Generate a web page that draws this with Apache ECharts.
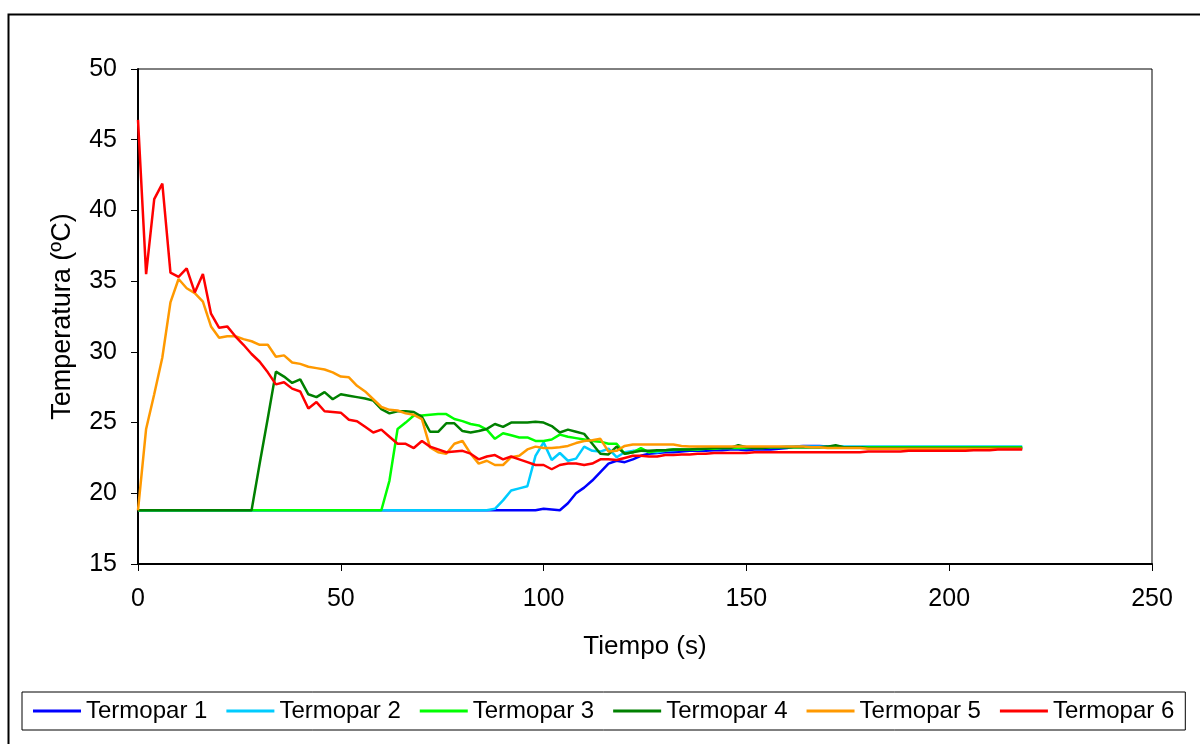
<!DOCTYPE html>
<html>
<head>
<meta charset="utf-8">
<script src="https://cdn.jsdelivr.net/npm/echarts@6/dist/echarts.min.js"></script>
<style>
  html, body { margin: 0; padding: 0; background: #fff; }
  #main { width: 1200px; height: 744px; }
</style>
</head>
<body>
<div id="main"></div>
<script>
// tiempo (s), una lectura cada 2 s
var tiempos = [
  0, 2, 4, 6, 8, 10, 12, 14, 16, 18,
  20, 22, 24, 26, 28, 30, 32, 34, 36, 38,
  40, 42, 44, 46, 48, 50, 52, 54, 56, 58,
  60, 62, 64, 66, 68, 70, 72, 74, 76, 78,
  80, 82, 84, 86, 88, 90, 92, 94, 96, 98,
  100, 102, 104, 106, 108, 110, 112, 114, 116, 118,
  120, 122, 124, 126, 128, 130, 132, 134, 136, 138,
  140, 142, 144, 146, 148, 150, 152, 154, 156, 158,
  160, 162, 164, 166, 168, 170, 172, 174, 176, 178,
  180, 182, 184, 186, 188, 190, 192, 194, 196, 198,
  200, 202, 204, 206, 208, 210, 212, 214, 216, 218
];

var termopar1 = [
  18.8, 18.8, 18.8, 18.8, 18.8, 18.8, 18.8, 18.8, 18.8, 18.8,
  18.8, 18.8, 18.8, 18.8, 18.8, 18.8, 18.8, 18.8, 18.8, 18.8,
  18.8, 18.8, 18.8, 18.8, 18.8, 18.8, 18.8, 18.8, 18.8, 18.8,
  18.8, 18.8, 18.8, 18.8, 18.8, 18.8, 18.8, 18.8, 18.8, 18.8,
  18.8, 18.8, 18.8, 18.8, 18.8, 18.8, 18.8, 18.8, 18.8, 18.8,
  18.9, 18.85, 18.8, 19.3, 20.0, 20.4, 20.9, 21.5, 22.1, 22.3,
  22.2, 22.4, 22.65, 22.8, 22.85, 22.9, 22.9, 22.95, 23.0, 23.0,
  23.0, 23.05, 23.05, 23.1, 23.1, 23.05, 23.1, 23.1, 23.1, 23.15,
  23.2, 23.3, 23.35, 23.35, 23.35, 23.3, 23.3, 23.25, 23.25, 23.25,
  23.2, 23.2, 23.2, 23.2, 23.2, 23.2, 23.2, 23.2, 23.2, 23.2,
  23.2, 23.2, 23.2, 23.2, 23.2, 23.2, 23.2, 23.2, 23.2, 23.2
];

var termopar2 = [
  18.8, 18.8, 18.8, 18.8, 18.8, 18.8, 18.8, 18.8, 18.8, 18.8,
  18.8, 18.8, 18.8, 18.8, 18.8, 18.8, 18.8, 18.8, 18.8, 18.8,
  18.8, 18.8, 18.8, 18.8, 18.8, 18.8, 18.8, 18.8, 18.8, 18.8,
  18.8, 18.8, 18.8, 18.8, 18.8, 18.8, 18.8, 18.8, 18.8, 18.8,
  18.8, 18.8, 18.8, 18.8, 18.9, 19.5, 20.2, 20.35, 20.5, 22.65,
  23.6, 22.35, 22.85, 22.3, 22.45, 23.3, 23.0, 22.95, 23.15, 22.55,
  22.9, 23.0, 23.0, 22.95, 22.9, 23.0, 23.05, 23.1, 23.1, 23.1,
  23.15, 23.15, 23.2, 23.2, 23.2, 23.2, 23.25, 23.25, 23.25, 23.25,
  23.3, 23.3, 23.3, 23.3, 23.3, 23.3, 23.3, 23.3, 23.3, 23.3,
  23.3, 23.3, 23.3, 23.3, 23.3, 23.3, 23.3, 23.3, 23.3, 23.3,
  23.3, 23.3, 23.3, 23.3, 23.3, 23.3, 23.3, 23.3, 23.3, 23.3
];

var termopar3 = [
  18.8, 18.8, 18.8, 18.8, 18.8, 18.8, 18.8, 18.8, 18.8, 18.8,
  18.8, 18.8, 18.8, 18.8, 18.8, 18.8, 18.8, 18.8, 18.8, 18.8,
  18.8, 18.8, 18.8, 18.8, 18.8, 18.8, 18.8, 18.8, 18.8, 18.8,
  18.8, 20.9, 24.55, 25.0, 25.5, 25.5, 25.55, 25.6, 25.6, 25.25,
  25.1, 24.9, 24.8, 24.5, 23.85, 24.25, 24.1, 23.95, 23.95, 23.7,
  23.7, 23.8, 24.15, 24.0, 23.9, 23.8, 23.7, 23.65, 23.5, 23.5,
  22.8, 22.9, 23.2, 22.9, 23.0, 23.05, 23.1, 23.1, 23.1, 23.1,
  23.15, 23.15, 23.2, 23.2, 23.2, 23.2, 23.2, 23.2, 23.25, 23.25,
  23.25, 23.25, 23.25, 23.25, 23.25, 23.25, 23.25, 23.25, 23.25, 23.25,
  23.25, 23.25, 23.25, 23.25, 23.25, 23.25, 23.25, 23.25, 23.25, 23.25,
  23.25, 23.25, 23.25, 23.25, 23.25, 23.25, 23.25, 23.25, 23.25, 23.25
];

var termopar4 = [
  18.8, 18.8, 18.8, 18.8, 18.8, 18.8, 18.8, 18.8, 18.8, 18.8,
  18.8, 18.8, 18.8, 18.8, 18.8, 22.1, 25.3, 28.6, 28.25, 27.8,
  28.05, 27.0, 26.8, 27.15, 26.65, 27.0, 26.9, 26.8, 26.7, 26.55,
  25.95, 25.65, 25.8, 25.8, 25.75, 25.4, 24.35, 24.35, 24.95, 24.95,
  24.4, 24.3, 24.4, 24.55, 24.9, 24.7, 25.0, 25.0, 25.0, 25.05,
  25.0, 24.75, 24.3, 24.5, 24.35, 24.2, 23.5, 22.8, 22.75, 23.3,
  22.8, 22.9, 23.0, 23.0, 23.05, 23.05, 23.1, 23.1, 23.1, 23.15,
  23.15, 23.2, 23.2, 23.2, 23.4, 23.25, 23.2, 23.2, 23.25, 23.25,
  23.25, 23.25, 23.25, 23.25, 23.25, 23.3, 23.4, 23.25, 23.25, 23.25,
  23.2, 23.2, 23.2, 23.2, 23.2, 23.2, 23.2, 23.2, 23.2, 23.2,
  23.2, 23.2, 23.2, 23.2, 23.2, 23.2, 23.2, 23.2, 23.2, 23.2
];

var termopar5 = [
  18.8, 24.55, 27.0, 29.6, 33.5, 35.15, 34.5, 34.15, 33.55, 31.8,
  31.0, 31.1, 31.1, 30.9, 30.75, 30.5, 30.5, 29.65, 29.75, 29.25,
  29.15, 28.95, 28.85, 28.75, 28.55, 28.25, 28.2, 27.6, 27.2, 26.65,
  26.1, 25.9, 25.85, 25.65, 25.55, 25.25, 23.25, 22.9, 22.8, 23.5,
  23.7, 22.8, 22.1, 22.3, 22.0, 22.0, 22.55, 22.65, 23.1, 23.3,
  23.2, 23.2, 23.25, 23.35, 23.55, 23.7, 23.75, 23.85, 22.95, 23.0,
  23.35, 23.45, 23.45, 23.45, 23.45, 23.45, 23.45, 23.35, 23.3, 23.3,
  23.3, 23.3, 23.3, 23.3, 23.3, 23.3, 23.3, 23.3, 23.3, 23.3,
  23.3, 23.3, 23.3, 23.25, 23.25, 23.2, 23.2, 23.2, 23.2, 23.2,
  23.15, 23.15, 23.15, 23.15, 23.15, 23.15, 23.15, 23.15, 23.15, 23.15,
  23.15, 23.15, 23.15, 23.15, 23.15, 23.15, 23.15, 23.15, 23.15, 23.15
];

var termopar6 = [
  46.4, 35.5, 40.8, 41.9, 35.6, 35.3, 35.9, 34.2, 35.5, 32.7,
  31.7, 31.8, 31.1, 30.5, 29.85, 29.3, 28.55, 27.7, 27.85, 27.4,
  27.2, 26.0, 26.45, 25.8, 25.75, 25.7, 25.2, 25.1, 24.7, 24.3,
  24.5, 24.0, 23.5, 23.5, 23.2, 23.7, 23.3, 23.1, 22.9, 22.95,
  23.0, 22.8, 22.4, 22.6, 22.7, 22.4, 22.6, 22.4, 22.2, 22.0,
  22.0, 21.7, 22.0, 22.1, 22.1, 22.0, 22.1, 22.4, 22.4, 22.35,
  22.5, 22.65, 22.65, 22.6, 22.6, 22.7, 22.7, 22.75, 22.75, 22.8,
  22.8, 22.85, 22.85, 22.85, 22.85, 22.85, 22.9, 22.9, 22.9, 22.9,
  22.9, 22.9, 22.9, 22.9, 22.9, 22.9, 22.9, 22.9, 22.9, 22.9,
  22.95, 22.95, 22.95, 22.95, 22.95, 23.0, 23.0, 23.0, 23.0, 23.0,
  23.0, 23.0, 23.0, 23.05, 23.05, 23.05, 23.1, 23.1, 23.1, 23.1
];

var nombres = ['Termopar 1', 'Termopar 2', 'Termopar 3', 'Termopar 4', 'Termopar 5', 'Termopar 6'];
var colores = ['#0000ff', '#00ccff', '#00ff00', '#008000', '#ff9900', '#ff0000'];
var valores = [termopar1, termopar2, termopar3, termopar4, termopar5, termopar6];

function pares(serie) {
  return tiempos.map(function(t, i) { return [t, serie[i]]; });
}

var fuente = 'Liberation Sans, Arial, sans-serif';

var chart = echarts.init(document.getElementById('main'), null, { renderer: 'canvas' });

var option = {
  animation: false,
  backgroundColor: '#fff',
  textStyle: { fontFamily: fuente, color: '#000' },
  graphic: [
    { // marco exterior
      type: 'rect',
      left: 6, top: 12,
      shape: { width: 1210, height: 750 },
      style: { fill: 'none', stroke: '#000', lineWidth: 2 },
      silent: true
    }
  ],
  grid: {
    left: 138,
    right: 48,
    top: 69,
    bottom: 180,
    show: true,
    borderColor: '#000',
    borderWidth: 1,
    outerBoundsMode: 'none'
  },
  legend: {
    left: 22,
    top: 692,
    padding: [7, 11, 7, 11],
    itemGap: 19,
    itemWidth: 48,
    itemHeight: 3,
    icon: 'rect',
    borderColor: '#000',
    borderWidth: 1,
    borderRadius: 0,
    textStyle: { fontFamily: fuente, fontSize: 24, color: '#000' },
    data: nombres
  },
  xAxis: {
    type: 'value',
    min: 0,
    max: 250,
    interval: 50,
    name: 'Tiempo (s)',
    nameLocation: 'middle',
    nameGap: 70,
    nameTextStyle: { fontFamily: fuente, fontSize: 26, color: '#000' },
    axisLine: { show: true, onZero: false, lineStyle: { color: '#000', width: 2 } },
    axisTick: { show: true, inside: false, length: 7, lineStyle: { color: '#000', width: 1 } },
    axisLabel: { fontFamily: fuente, fontSize: 25, color: '#000', margin: 23 },
    splitLine: { show: false }
  },
  yAxis: {
    type: 'value',
    min: 15,
    max: 50,
    interval: 5,
    name: 'Temperatura (ºC)',
    nameLocation: 'middle',
    nameGap: 62,
    nameTextStyle: { fontFamily: fuente, fontSize: 27, color: '#000' },
    axisLine: { show: true, onZero: false, lineStyle: { color: '#000', width: 2 } },
    axisTick: { show: true, inside: false, length: 7, lineStyle: { color: '#000', width: 1 } },
    axisLabel: { fontFamily: fuente, fontSize: 25, color: '#000', margin: 21 },
    splitLine: { show: false }
  },
  series: nombres.map(function(nombre, i) {
    return {
      name: nombre,
      type: 'line',
      symbol: 'none',
      smooth: false,
      color: colores[i],
      lineStyle: { color: colores[i], width: 2.5 },
      data: pares(valores[i])
    };
  })
};

chart.setOption(option);
</script>
</body>
</html>
